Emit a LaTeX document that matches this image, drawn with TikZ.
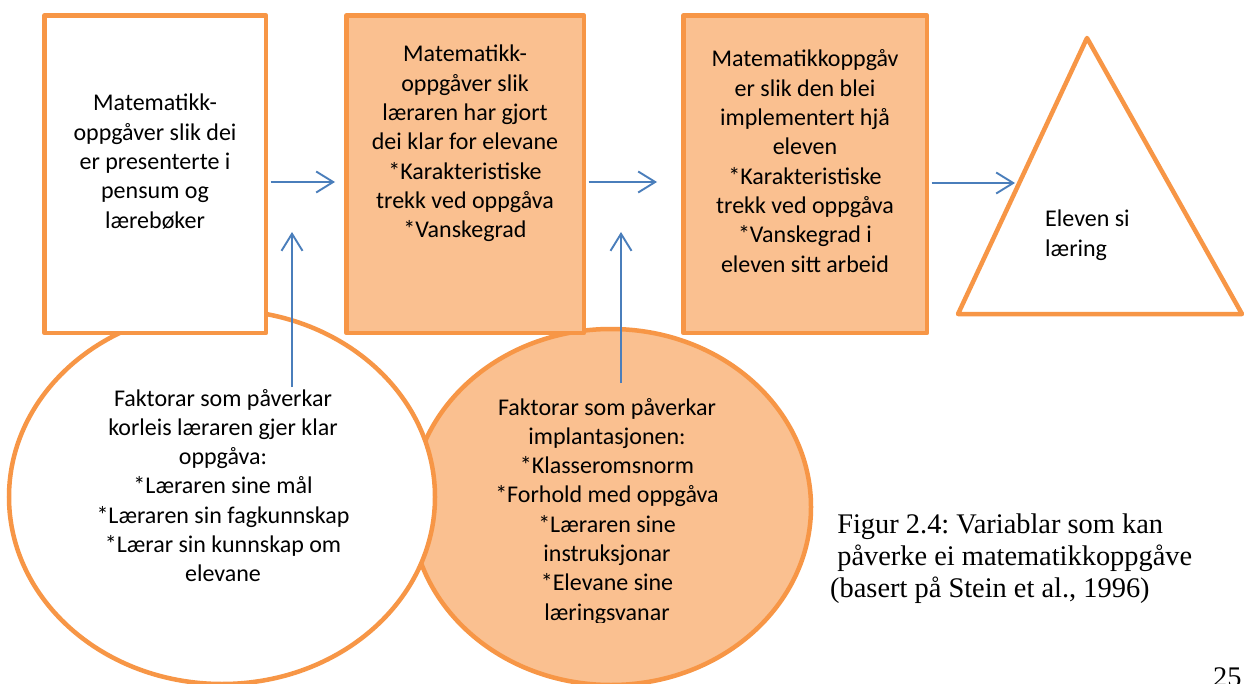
\documentclass[tikz,border=0pt]{standalone}
\usepackage{fontspec}
\usetikzlibrary{arrows.meta,shapes.geometric}
\newfontfamily\carlito{Carlito}
\newfontfamily\tnr{Liberation Serif}
\definecolor{frameorange}{HTML}{F79646}
\definecolor{fillorange}{HTML}{FAC090}
\definecolor{arrowblue}{HTML}{4A7EBB}
\frenchspacing
\tikzset{
  stagebox/.style={rectangle, draw=frameorange, line width=4.5pt, line join=round, inner sep=0pt},
  factor/.style={ellipse, draw=frameorange, line width=4.5pt, inner sep=0pt},
  body/.style={font=\carlito\fontsize{24}{29.3}\selectfont, text width=300pt, align=flush center, anchor=base, inner sep=0pt},
  capt/.style={font=\tnr\fontsize{28.4}{32.2}\selectfont, text width=420pt, align=flush left, anchor=base west, inner sep=0pt},
  conn/.style={draw=arrowblue, line width=1.9pt, -{Straight Barb[length=17pt,width=21pt]}},
}
\begin{document}
\begin{tikzpicture}[x=1pt,y=-1pt]
\useasboundingbox (0,0) rectangle (1246,684);
\fill[white] (0,0) rectangle (1246,684);

% factor ellipses (the filled one lies underneath)
\node[factor, fill=fillorange, minimum width=400pt, minimum height=356pt] (impl) at (611,507) {};
\node[factor, fill=white, minimum width=426pt, minimum height=374pt] (prep) at (222,497) {};

% the three stages of the task
\node[stagebox, fill=white, minimum width=221.5pt, minimum height=317.5pt] (curric) at (155.25,174.25) {};
\node[stagebox, fill=fillorange, minimum width=237.5pt, minimum height=317.5pt] (setup) at (465.25,174.25) {};
\node[stagebox, fill=fillorange, minimum width=243.5pt, minimum height=317.5pt] (implem) at (805.25,174.25) {};

% learning outcome
\draw[frameorange, line width=4.5pt, line join=round] (1087,38) -- (1242,314) -- (958,314) -- cycle;

% stage texts
\node[body] (curricT) at (155,111) {Matematikk-\\oppgåver slik dei\\er presenterte i\\pensum og\\lærebøker};
\node[body] (setupT) at (465,62) {Matematikk-\\oppgåver slik\\læraren har gjort\\dei klar for elevane\\{*}Karakteristiske\\trekk ved oppgåva\\{*}Vanskegrad};
\node[body] (implemT) at (805,67) {Matematikkoppgåv\\er slik den blei\\implementert hjå\\eleven\\{*}Karakteristiske\\trekk ved oppgåva\\{*}Vanskegrad i\\eleven sitt arbeid};
\node[body, text width=150pt, align=flush left, anchor=base west] (learn) at (1045,227) {Eleven si\\læring};

% factor texts
\node[body] (prepT) at (223,406) {Faktorar som påverkar\\korleis læraren gjer klar\\oppgåva:\\{*}Læraren sine mål\\{*}Læraren sin fagkunnskap\\{*}Lærar sin kunnskap om\\elevane};
\begin{scope}
  \clip (400,380) rectangle (830,622);
  \node[body] (implT) at (607,415) {Faktorar som påverkar\\implantasjonen:\\{*}Klasseromsnorm\\{*}Forhold med oppgåva\\{*}Læraren sine\\instruksjonar\\{*}Elevane sine\\læringsvanar};
\end{scope}

% connectors
\coordinate (tipA) at (335,182);
\coordinate (tipB) at (657,182);
\coordinate (tipC) at (1015,183);
\coordinate (srcP) at (292,387);
\coordinate (tipP) at (292,232);
\coordinate (srcI) at (621,383);
\coordinate (tipI) at (621,232);
\draw[conn, shorten <=2.25pt] (curric.east |- tipA) -- (tipA);
\draw[conn, shorten <=2.25pt] (setup.east |- tipB) -- (tipB);
\draw[conn, shorten <=2.25pt] (implem.east |- tipC) -- (tipC);
\draw[conn] (srcP) -- (tipP);
\draw[conn] (srcI) -- (tipI);

% caption and page number
\node[capt] (caption) at (830,533) {\hspace*{7.1pt}Figur 2.4: Variablar som kan\\\hspace*{7.1pt}påverke ei matematikkoppgåve\\(basert på Stein et al., 1996)};
\node[capt, text width=60pt] (page) at (1213,686) {25};
\end{tikzpicture}
\end{document}
